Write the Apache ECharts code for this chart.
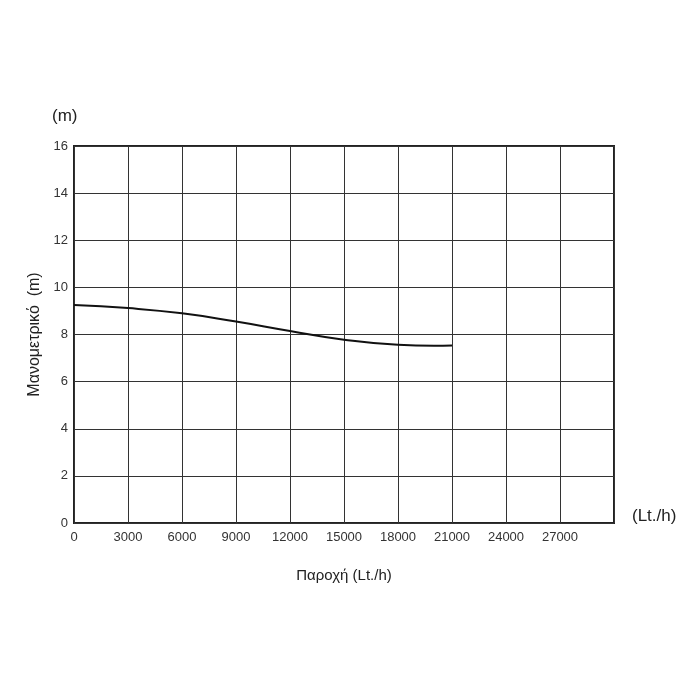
<!DOCTYPE html>
<html>
<head>
<meta charset="utf-8">
<script src="https://cdn.jsdelivr.net/npm/echarts@6/dist/echarts.min.js"></script>
<style>
  html, body { margin: 0; padding: 0; background: #fff; }
  #chart { width: 700px; height: 700px; }
</style>
</head>
<body>
<div id="chart"></div>
<script>
// καμπύλη αντλίας: παροχή (Lt./h) - μανομετρικό (m)
var flow = [0, 3000, 6000, 9000, 12000, 15000, 18000, 20000, 21000];
var head = [9.25, 9.12, 8.9, 8.55, 8.15, 7.78, 7.56, 7.52, 7.53];
var xTicks = [0, 3000, 6000, 9000, 12000, 15000, 18000, 21000, 24000, 27000];

(function () {
  var myChart = echarts.init(document.getElementById("chart"));

  var points = flow.map(function (q, i) {
    return [q, head[i]];
  });

  var option = {
    animation: false,
    textStyle: {
      fontFamily: "Liberation Sans, Arial, sans-serif"
    },
    grid: {
      left: 74,
      right: 86,
      top: 146,
      bottom: 177,
      show: true,
      borderColor: "#222",
      borderWidth: 2
    },
    graphic: [
      {
        type: "text",
        left: 52,
        top: 108,
        style: { text: "(m)", fontSize: 17, fill: "#222", fontFamily: "Liberation Sans, Arial, sans-serif" }
      },
      {
        type: "text",
        left: 632,
        top: 508,
        style: { text: "(Lt./h)", fontSize: 17, fill: "#222", fontFamily: "Liberation Sans, Arial, sans-serif" }
      }
    ],
    xAxis: {
      type: "value",
      min: 0,
      max: 30000,
      interval: 3000,
      name: "Παροχή (Lt./h)",
      nameLocation: "middle",
      nameGap: 45,
      nameTextStyle: { fontSize: 15, color: "#222" },
      axisLine: { show: false },
      axisTick: { show: false },
      axisLabel: {
        color: "#333",
        fontSize: 13,
        margin: 8,
        formatter: function (v) {
          return xTicks.indexOf(v) >= 0 ? String(v) : "";
        }
      },
      splitLine: { lineStyle: { color: "#333", width: 1 } }
    },
    yAxis: {
      type: "value",
      min: 0,
      max: 16,
      interval: 2,
      name: "Μανομετρικό  (m)",
      nameLocation: "middle",
      nameGap: 31,
      nameMoveOverlap: false,
      nameTextStyle: { fontSize: 16, color: "#222" },
      axisLine: { show: false },
      axisTick: { show: false },
      axisLabel: { color: "#333", fontSize: 13, margin: 6 },
      splitLine: { lineStyle: { color: "#333", width: 1 } }
    },
    series: [{
      type: "line",
      smooth: true,
      showSymbol: false,
      data: points,
      lineStyle: { color: "#111", width: 2 }
    }]
  };

  myChart.setOption(option);
  window.addEventListener("resize", function () {
    myChart.resize();
  });
})();
</script>
</body>
</html>
